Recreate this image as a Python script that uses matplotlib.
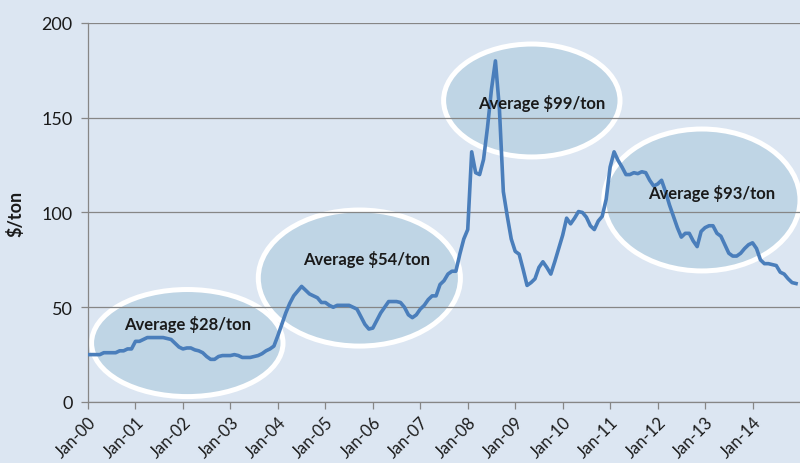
import matplotlib
matplotlib.use("Agg")
import matplotlib.pyplot as plt
from matplotlib.patches import Ellipse

# Monthly price, Jan-2000 .. Dec-2014 ($/ton)
prices_2000 = [25, 25, 25, 25, 26, 26, 26, 26, 27, 27, 28, 28]
prices_2001 = [32, 32, 33, 34, 34, 34, 34, 34, 33.5, 33, 31, 29]
prices_2002 = [28, 28.5, 28.5, 27.5, 27, 26, 24, 22.5, 22.5, 24, 24.5, 24.5]
prices_2003 = [24.5, 25, 24.5, 23.5, 23.5, 23.5, 24, 24.5, 25.5, 27, 28, 29.5]
prices_2004 = [35, 41, 47, 52, 56, 58.5, 61, 59, 57, 56, 55, 52.5]
prices_2005 = [52.5, 51, 50, 51, 51, 51, 51, 50, 49, 45, 41, 38.5]
prices_2006 = [39, 43, 47, 50, 53, 53, 53, 52.5, 50, 46, 44.5, 46]
prices_2007 = [49, 51, 54, 56, 56, 62, 64, 67.5, 69, 69, 78, 86]
prices_2008 = [91, 132, 121, 120, 128, 145, 165, 180, 155, 111, 98, 86]
prices_2009 = [79.5, 78, 70, 61.5, 63, 65, 71, 74, 71, 67.5, 74, 81]
prices_2010 = [88, 97, 94, 97, 100.5, 100, 97.5, 93, 91, 95.5, 98, 107]
prices_2011 = [124, 132, 127.5, 124, 120, 120, 121, 120.5, 121.5, 121, 117, 114]
prices_2012 = [115, 117, 111, 104, 98, 92, 87, 89, 89, 85, 82, 90]
prices_2013 = [92, 93, 93, 89, 87.5, 83, 78.5, 77, 77, 78.5, 81, 83]
prices_2014 = [84, 81, 75, 73, 73, 72.5, 72, 68.5, 67.5, 65, 63, 62.5]

prices = (prices_2000 + prices_2001 + prices_2002 + prices_2003 + prices_2004
          + prices_2005 + prices_2006 + prices_2007 + prices_2008 + prices_2009
          + prices_2010 + prices_2011 + prices_2012 + prices_2013 + prices_2014)
months = list(range(len(prices)))

tick_labels = ["Jan-00", "Jan-01", "Jan-02", "Jan-03", "Jan-04", "Jan-05",
               "Jan-06", "Jan-07", "Jan-08", "Jan-09", "Jan-10", "Jan-11",
               "Jan-12", "Jan-13", "Jan-14"]

avg_labels = ["Average $28/ton", "Average $54/ton", "Average $99/ton", "Average $93/ton"]
# (center month, center price, width in months, height in $/ton)
avg_ellipses = [(25.1, 31.1, 48.4, 56.5), (68.6, 65.4, 51.1, 71.8),
                (112.2, 159.1, 44.6, 59.6), (155.2, 106.6, 49.6, 74.9)]
avg_text_pos = [(25.3, 41.2), (70.4, 75.5), (114.7, 158.3), (157.7, 110.8)]

BG = "#dce6f2"
LINE = "#4a7ebb"
GRID = "#868686"
TEXT = "#1a1a1a"

fig = plt.figure(figsize=(8.0, 4.64), dpi=100, facecolor=BG)
ax = fig.add_axes([0.11, 0.1315, 0.89, 0.8168])
ax.set_facecolor(BG)

for (cx, cy, w, h) in avg_ellipses:
    ax.add_patch(Ellipse((cx, cy), w, h, facecolor="#bfd5e5", edgecolor="white",
                         linewidth=3.6, zorder=0.5))

ax.plot(months, prices, color=LINE, linewidth=2.6, zorder=3, solid_joinstyle="round")

for label, (tx, ty) in zip(avg_labels, avg_text_pos):
    ax.text(tx, ty, label, ha="center", va="center", fontsize=12,
            fontweight="bold", family="Lato", color=TEXT, zorder=4)

ax.set_xlim(0, 180)
ax.set_ylim(0, 200)
ax.set_yticks([0, 50, 100, 150, 200])
ax.set_xticks(list(range(0, 180, 12)))
ax.set_xticklabels(tick_labels, rotation=45, ha="right", rotation_mode="anchor",
                   fontsize=12, family="Lato", color=TEXT)
for t in ax.get_yticklabels():
    t.set_fontsize(13)
    t.set_family("Lato")
    t.set_color(TEXT)

ax.grid(axis="y", color=GRID, linewidth=0.9, zorder=1)
ax.set_axisbelow(False)
for gl in ax.get_ygridlines():
    gl.set_zorder(1)

for side in ("top", "right"):
    ax.spines[side].set_visible(False)
for side in ("left", "bottom"):
    ax.spines[side].set_color(GRID)
    ax.spines[side].set_linewidth(0.9)
    ax.spines[side].set_zorder(2)
ax.tick_params(axis="both", color=GRID, length=5, width=0.9, direction="out")
ax.tick_params(axis="y", pad=6)
ax.tick_params(axis="x", pad=3)

ax.set_ylabel("$/ton", fontsize=13, fontweight="bold", family="Lato",
              color=TEXT, labelpad=12)

fig.savefig("out.png", dpi=100, facecolor=BG)
